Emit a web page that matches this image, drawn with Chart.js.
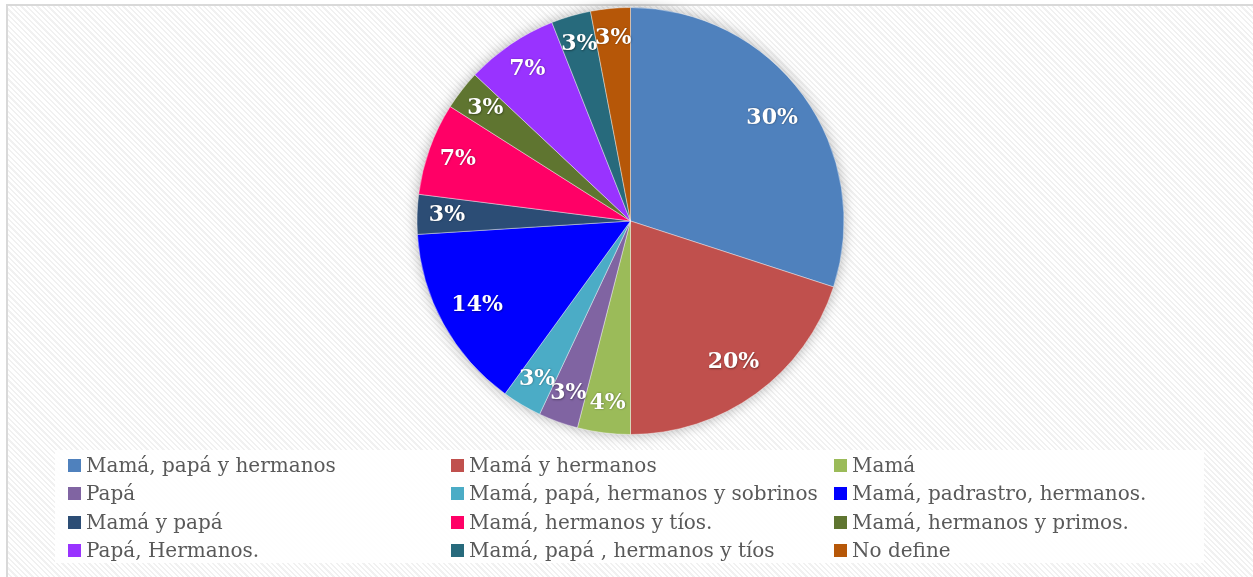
<!DOCTYPE html>
<html>
<head>
<meta charset="utf-8">
<script src="https://cdn.jsdelivr.net/npm/chart.js@4/dist/chart.umd.min.js"></script>
<style>
  html, body { margin: 0; padding: 0; background: #ffffff; }
  body { width: 1253px; height: 577px; position: relative; overflow: hidden; }
  #frame {
    position: absolute; left: 6px; top: 4px; width: 1300px; height: 620px;
    border-left: 2px solid #d9d9d9; border-top: 2px solid #d9d9d9;
    background: repeating-linear-gradient(45deg, #ffffff 0px, #ffffff 2.2px, #f1f1f1 2.2px, #f1f1f1 3.8px);
  }
  #chartwrap { position: absolute; left: 0; top: 0; width: 1253px; height: 577px; }
  #legend {
    position: absolute; left: 55px; top: 450px; width: 1149px; height: 113px;
    background: rgba(255,255,255,0.88);
  }
  .item {
    position: absolute; font-family: "DejaVu Serif", serif; font-size: 20px; color: #595959;
    white-space: nowrap; line-height: 24px; height: 24px;
  }
  .item .box { position: absolute; left: 0; top: 6px; width: 13px; height: 13px; }
  .item .txt { position: absolute; left: 18px; top: 0; }
</style>
</head>
<body>
<div id="frame"></div>
<div id="chartwrap"><canvas id="c" width="1253" height="577"></canvas></div>
<div id="legend"></div>
<script>
const categories = [
  "Mamá, papá y hermanos",
  "Mamá y hermanos",
  "Mamá",
  "Papá",
  "Mamá, papá, hermanos y sobrinos",
  "Mamá, padrastro, hermanos.",
  "Mamá y papá",
  "Mamá, hermanos y tíos.",
  "Mamá, hermanos y primos.",
  "Papá, Hermanos.",
  "Mamá, papá , hermanos y tíos",
  "No define"
];
const percentages = [30, 20, 4, 3, 3, 14, 3, 7, 3, 7, 3, 3];
const colors = [
  "#4F81BD", "#C0504D", "#9BBB59", "#8064A2", "#4BACC6", "#0000FF",
  "#2C4D75", "#FF0066", "#5F7530", "#9933FF", "#276A7C", "#B65708"
];

const pieShadow = {
  id: 'pieShadow',
  beforeDatasetsDraw(chart) {
    const arc = chart.getDatasetMeta(0).data[0];
    if (!arc) return;
    const p = arc.getProps(['x', 'y', 'outerRadius'], true);
    const ctx = chart.ctx;
    ctx.save();
    ctx.shadowColor = 'rgba(0,0,0,0.35)';
    ctx.shadowBlur = 14;
    ctx.fillStyle = '#cccccc';
    ctx.beginPath();
    ctx.arc(p.x, p.y, p.outerRadius - 1, 0, Math.PI * 2);
    ctx.fill();
    ctx.restore();
  }
};

const sliceLabels = {
  id: 'sliceLabels',
  afterDatasetsDraw(chart) {
    const meta = chart.getDatasetMeta(0);
    const ctx = chart.ctx;
    ctx.save();
    ctx.font = 'bold 22px "DejaVu Serif", serif';
    ctx.textAlign = 'center';
    ctx.textBaseline = 'middle';
    ctx.fillStyle = '#ffffff';
    ctx.shadowColor = 'rgba(0,0,0,0.4)';
    ctx.shadowBlur = 2;
    ctx.shadowOffsetX = 0.5;
    ctx.shadowOffsetY = 0.5;
    meta.data.forEach((arc, i) => {
      const p = arc.getProps(['x', 'y', 'startAngle', 'endAngle', 'outerRadius'], true);
      const mid = (p.startAngle + p.endAngle) / 2;
      const r = p.outerRadius * (percentages[i] >= 10 ? 0.82 : 0.86);
      ctx.fillText(percentages[i] + '%', p.x + Math.cos(mid) * r, p.y + Math.sin(mid) * r);
    });
    ctx.restore();
  }
};

new Chart(document.getElementById('c'), {
  type: 'pie',
  data: {
    labels: categories,
    datasets: [{
      data: percentages,
      backgroundColor: colors,
      borderColor: 'rgba(255,255,255,0.4)',
      borderWidth: 1
    }]
  },
  options: {
    responsive: false,
    animation: false,
    layout: { padding: { left: 416, right: 408, top: 7, bottom: 142 } },
    plugins: {
      legend: { display: false },
      tooltip: { enabled: false }
    }
  },
  plugins: [pieShadow, sliceLabels]
});

// HTML legend in a 3-column grid built from the data arrays
const legend = document.getElementById('legend');
const colX = [13, 396, 779];
const rowY = [3, 31, 59.5, 88];
categories.forEach((name, i) => {
  const div = document.createElement('div');
  div.className = 'item';
  div.style.left = colX[i % 3] + 'px';
  div.style.top = rowY[Math.floor(i / 3)] + 'px';
  const box = document.createElement('span');
  box.className = 'box';
  box.style.background = colors[i];
  const txt = document.createElement('span');
  txt.className = 'txt';
  txt.textContent = name;
  div.appendChild(box);
  div.appendChild(txt);
  legend.appendChild(div);
});
</script>
</body>
</html>
